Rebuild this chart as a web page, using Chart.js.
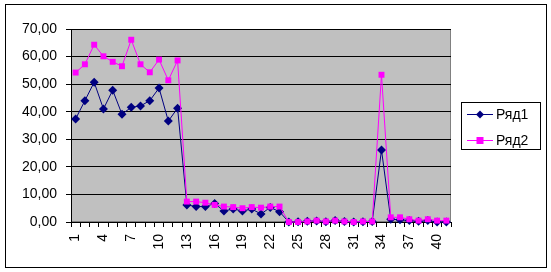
<!DOCTYPE html>
<html>
<head>
<meta charset="utf-8">
<script src="https://cdn.jsdelivr.net/npm/chart.js@4.4.1/dist/chart.umd.min.js"></script>
<style>
  html, body { margin: 0; padding: 0; background: #fff; }
  #wrap { position: relative; width: 551px; height: 272px; }
</style>
</head>
<body>
<div id="wrap"><canvas id="chart" width="551" height="272"></canvas></div>
<script>
'use strict';

// data
const categories = ['1','2','3','4','5','6','7','8','9','10','11','12','13','14','15','16','17','18','19','20',
  '21','22','23','24','25','26','27','28','29','30','31','32','33','34','35','36','37','38','39','40','41'];

const ryad1 = [37.4, 44.0, 50.7, 41.0, 47.8, 39.1, 41.6, 42.1, 44.0, 48.6, 36.6, 41.3,
  6.2, 5.6, 5.6, 6.7, 4.0, 4.7, 4.0, 4.7, 2.9, 5.3, 3.7,
  0.0, 0.1, 0.3, 0.4, 0.1, 0.5, 0.2, 0.0, 0.1, 0.2,
  26.1, 1.0, 0.8, 0.5, 0.3, 0.5, 0.0, 0.0];

const ryad2 = [54.2, 57.2, 64.3, 60.1, 58.1, 56.5, 66.1, 57.2, 54.3, 58.9, 51.4, 58.6,
  7.4, 7.4, 7.0, 6.2, 5.6, 5.4, 5.0, 5.4, 5.2, 5.6, 5.6,
  0.0, 0.0, 0.2, 0.5, 0.2, 0.5, 0.2, 0.0, 0.2, 0.2,
  53.4, 1.7, 1.7, 1.0, 0.5, 1.0, 0.5, 0.5];

const seriesNames = ['Ряд1', 'Ряд2'];
const yTicks = [0, 10, 20, 30, 40, 50, 60, 70];

const FONT = 'Arial, "Liberation Sans", sans-serif';
const NAVY = '#000080';
const MAGENTA = '#ff00ff';

/**
 * frame, grey plot area and the boxed legend
 */
const excelFrame = {
  id: 'excelFrame',
  beforeDraw(chart) {
    const { ctx, chartArea: a } = chart;
    ctx.save();
    ctx.fillStyle = '#fff';
    ctx.fillRect(0, 0, chart.width, chart.height);
    ctx.strokeStyle = '#000';
    ctx.lineWidth = 1;
    ctx.strokeRect(5.5, 4.5, 541, 263);
    ctx.fillStyle = '#c0c0c0';
    ctx.fillRect(a.left, a.top, a.right - a.left, a.bottom - a.top);
    ctx.strokeStyle = '#808080';
    ctx.strokeRect(a.left + 0.5, a.top + 0.5, a.right - a.left - 1, a.bottom - a.top - 1);
    ctx.restore();
  },
  afterDraw(chart) {
    const ctx = chart.ctx;
    ctx.save();
    ctx.strokeStyle = '#000';
    ctx.lineWidth = 1;
    ctx.strokeRect(461.5, 102.5, 79, 47);
    const rows = [
      { y: 114.5, color: NAVY, shape: 'diamond' },
      { y: 140.5, color: MAGENTA, shape: 'square' }
    ];
    rows.forEach(function (r, i) {
      ctx.strokeStyle = r.color;
      ctx.beginPath();
      ctx.moveTo(467, r.y);
      ctx.lineTo(493, r.y);
      ctx.stroke();
      ctx.fillStyle = r.color;
      if (r.shape === 'diamond') {
        ctx.beginPath();
        ctx.moveTo(480, r.y - 4);
        ctx.lineTo(484, r.y);
        ctx.lineTo(480, r.y + 4);
        ctx.lineTo(476, r.y);
        ctx.closePath();
        ctx.fill();
      } else {
        ctx.fillRect(476.5, r.y - 3.5, 7, 7);
      }
      ctx.fillStyle = '#000';
      ctx.font = '14px ' + FONT;
      ctx.textBaseline = 'middle';
      ctx.fillText(seriesNames[i], 496, r.y + 1);
    });
    ctx.restore();
  }
};

new Chart(document.getElementById('chart'), {
  type: 'line',
  data: {
    labels: categories,
    datasets: [
      {
        label: seriesNames[0],
        data: ryad1,
        borderColor: NAVY,
        backgroundColor: NAVY,
        borderWidth: 1,
        pointStyle: 'rectRot',
        pointRadius: 4.5,
        pointBorderWidth: 0,
        tension: 0,
        clip: false,
        order: 1
      },
      {
        label: seriesNames[1],
        data: ryad2,
        borderColor: MAGENTA,
        backgroundColor: MAGENTA,
        borderWidth: 1,
        pointStyle: 'rect',
        pointRadius: 4.2,
        pointBorderWidth: 0,
        tension: 0,
        clip: false,
        order: 0
      }
    ]
  },
  options: {
    responsive: false,
    animation: false,
    layout: { padding: { left: 0, top: 29, right: 100, bottom: 0 } },
    plugins: {
      legend: { display: false },
      tooltip: { enabled: false }
    },
    scales: {
      x: {
        offset: true,
        grid: {
          offset: true,
          drawOnChartArea: false,
          drawTicks: true,
          tickLength: 5,
          color: '#000'
        },
        border: { color: '#000' },
        ticks: {
          autoSkip: false,
          minRotation: 90,
          maxRotation: 90,
          padding: 7,
          color: '#000',
          font: { family: FONT, size: 14 },
          callback: function (v, i) { return i % 3 === 0 ? categories[i] : ''; }
        },
        afterFit: function (scale) { scale.height = 50; }
      },
      y: {
        min: yTicks[0],
        max: yTicks[yTicks.length - 1],
        afterBuildTicks: function (scale) {
          scale.ticks = yTicks.map(function (v) { return { value: v }; });
        },
        grid: {
          color: '#000',
          tickLength: 5,
          drawTicks: true
        },
        border: { color: '#000' },
        ticks: {
          padding: 9,
          color: '#000',
          font: { family: FONT, size: 14 },
          callback: function (v) { return v.toFixed(2).replace('.', ','); }
        },
        afterFit: function (scale) { scale.width = 71; }
      }
    }
  },
  plugins: [excelFrame]
});
</script>
</body>
</html>
